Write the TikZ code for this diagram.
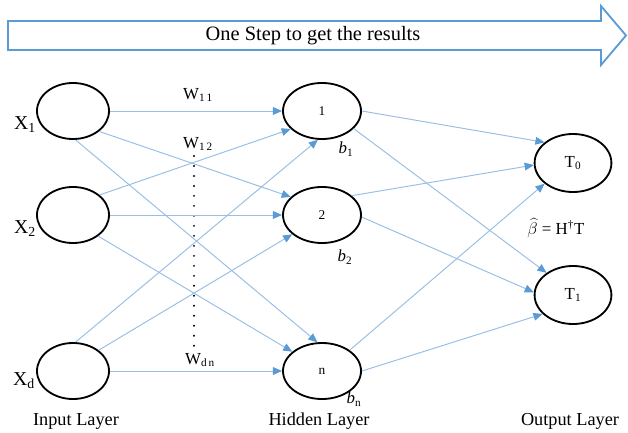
\documentclass[tikz,border=0pt]{standalone}
\usepackage{fontspec}
\setmainfont{Liberation Serif}
\usepackage{tikz}
\usetikzlibrary{arrows.meta,shapes.geometric}
\definecolor{StepBlue}{HTML}{5B9BD5}
\definecolor{LinkBlue}{HTML}{9ABFE3}

\begin{document}
\begin{tikzpicture}[x=0.025cm, y=-0.025cm,
    every node/.style={font=\fontsize{13}{15}\selectfont},
    neuron/.style={ellipse, draw, line width=1.3pt, inner sep=0pt,
      minimum width=1.8cm, minimum height=1.4cm},
    link/.style={LinkBlue, line width=0.7pt,
      -{Triangle[length=6.5pt,width=5.5pt,color=StepBlue]}},
    dotline/.style={line width=1.5pt, line cap=round, dash pattern=on 0pt off 7.1pt}]
  \useasboundingbox (0,0) rectangle (628,432);
  % One step arrow
  \draw[StepBlue, line width=1.3pt] (8,21) -- (601,21) -- (601,6) -- (626,35.5)
    -- (601,65) -- (601,50) -- (8,50) -- cycle;
  \node[font=\fontsize{14.5}{16}\selectfont] (title) at (313,36) {One Step to get the results};
  % Input layer
  \foreach \nm/\y in {X1/111, X2/215, Xd/371}{
    \node[neuron] (\nm) at (73,\y) {};
  }
  \node[font=\fontsize{14}{16}\selectfont] (lx1) at (25,125) {X\textsubscript{1}};
  \node[font=\fontsize{14}{16}\selectfont] (lx2) at (25,229) {X\textsubscript{2}};
  \node[font=\fontsize{14}{16}\selectfont] (lxd) at (24,381) {X\textsubscript{d}};
  % Hidden layer
  \foreach \nm/\y/\t in {H1/111/1, H2/215/2, Hn/371/n}{
    \node[neuron, minimum width=1.95cm, font=\fontsize{9.5}{11}\selectfont] (\nm) at (322,\y) {\t};
  }
  \node[font=\fontsize{12}{14}\selectfont] (b1) at (346,149) {\textit{b}\textsubscript{1}};
  \node[font=\fontsize{12}{14}\selectfont] (b2) at (345,257) {\textit{b}\textsubscript{2}};
  \node[font=\fontsize{12}{14}\selectfont] (bn) at (354,399) {\textit{b}\textsubscript{n}};
  % Output layer
  \node[neuron, minimum width=1.92cm, minimum height=1.45cm, font=\fontsize{12}{14}\selectfont]
    (T0) at (573,163) {T\textsubscript{0}};
  \node[neuron, minimum width=1.92cm, minimum height=1.45cm, font=\fontsize{12}{14}\selectfont]
    (T1) at (573,295) {T\textsubscript{1}};
  \node[font=\fontsize{12}{14}\selectfont, inner sep=1pt] (beta) at (556,228)
    {$\widehat{\beta}$ = H\textsuperscript{\textdagger}T};
  % Weights
  \node[font=\fontsize{12}{14}\selectfont] (w11) at (198,95) {W\textsubscript{1\,1}};
  \node[font=\fontsize{12}{14}\selectfont] (w12) at (198,144) {W\textsubscript{1\,2}};
  \node[font=\fontsize{12}{14}\selectfont] (wdn) at (200,360) {W\textsubscript{d\,n}};
  \coordinate (dtop) at (194,156);
  \coordinate (dbot) at (194,346);
  \draw[dotline] (dtop) -- (dbot);
  % Connections
  \foreach \a/\b in {X1.east/H1.west, X1.-38/H2.150, X1.-85/Hn.99,
      X2.37/H1.210, X2.east/H2.west, X2.-40/Hn.147,
      Xd.85/H1.-98, Xd.39/H2.213, Xd.east/Hn.west,
      H1.east/T0.144, H1.-29/T1.140, H2.33/T0.183,
      H2.-3/T1.176, Hn.37/T0.216, Hn.east/T1.212}{
    \draw[link] (\a) -- (\b);
  }
  % Layer names
  \node (lin) at (76,421) {Input Layer};
  \node (lhid) at (319,421) {Hidden Layer};
  \node (lout) at (570,421) {Output Layer};
\end{tikzpicture}
\end{document}
